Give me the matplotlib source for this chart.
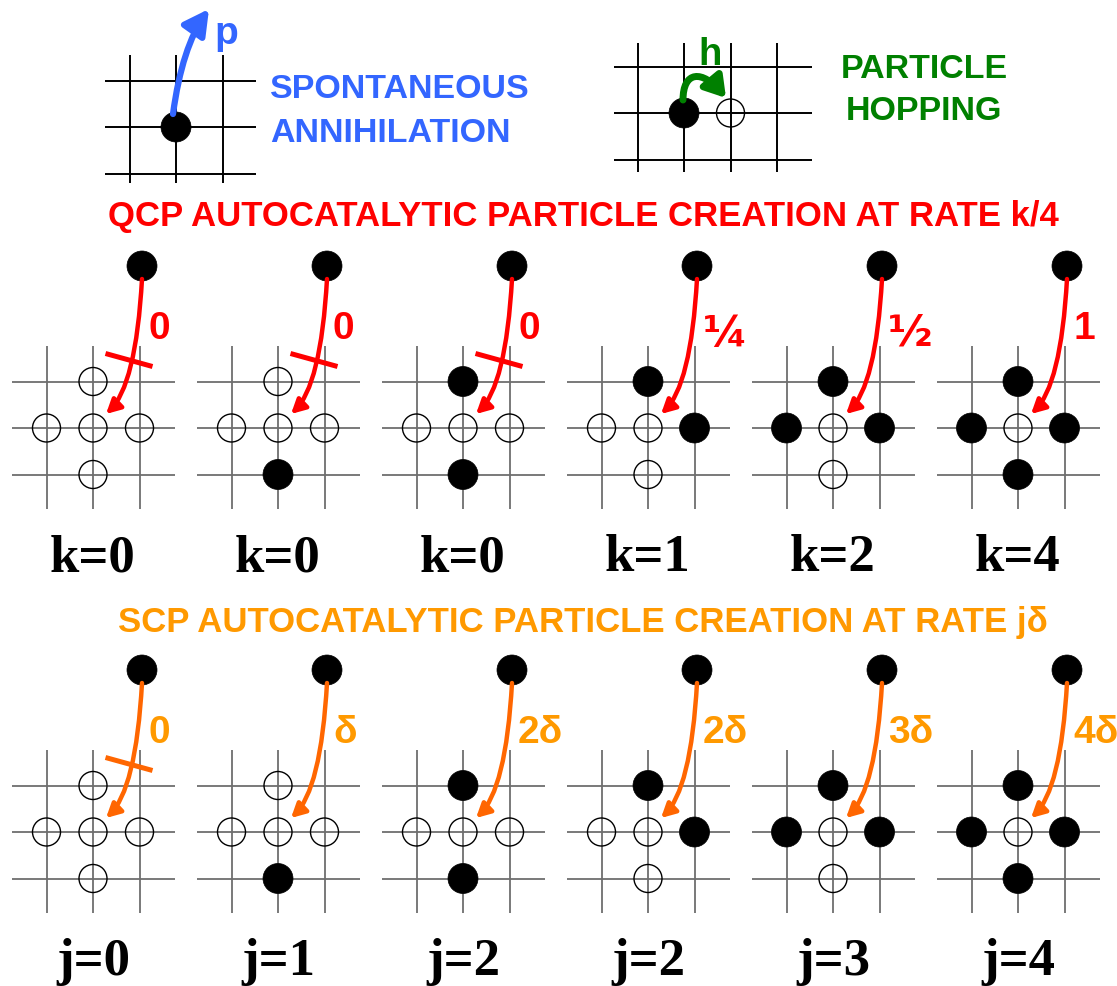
import matplotlib
matplotlib.use("Agg")
import matplotlib.pyplot as plt
from matplotlib.patches import Circle, FancyArrowPatch
from matplotlib.path import Path

# rates and neighbour occupancy for each of the six configurations
qcp_k = [0, 0, 0, 1, 2, 4]
qcp_rates = ["0", "0", "0", "¼", "½", "1"]
scp_j = [0, 1, 2, 2, 3, 4]
scp_rates = ["0", "δ", "2δ", "2δ", "3δ", "4δ"]

# 1 = occupied neighbour site (up, left, right, down)
nb_up = [0, 0, 1, 1, 1, 1]
nb_left = [0, 0, 0, 0, 1, 1]
nb_right = [0, 0, 0, 1, 1, 1]
nb_down = [0, 1, 1, 0, 0, 1]

SANS = "Liberation Sans"
SERIF = "Liberation Serif"
RED = "#ff0000"
ORANGE_ARROW = "#ff6600"
ORANGE_TEXT = "#ff9900"
BLUE = "#3366ff"
GREEN = "#008000"

W, H = 1117, 987
fig = plt.figure(figsize=(W / 100, H / 100), dpi=100)
ax = fig.add_axes([0, 0, 1, 1])
ax.set_xlim(0, W)
ax.set_ylim(H, 0)
ax.axis("off")

SP = 46.5  # lattice spacing in pixels


def site(x, y, filled, r=None):
    if filled:
        ax.add_patch(Circle((x, y), r or 15, fc="black", ec="black", lw=0.5, zorder=4))
    else:
        ax.add_patch(Circle((x, y), r or 14, fc="none", ec="black", lw=1.0, zorder=4))


def lattice(xs, ys, x0, x1, y0, y1, color, lw):
    for x in xs:
        ax.plot([x, x], [y0, y1], color=color, lw=lw, solid_capstyle="butt", zorder=1)
    for y in ys:
        ax.plot([x0, x1], [y, y], color=color, lw=lw, solid_capstyle="butt", zorder=1)


# ---- spontaneous annihilation ----
cx, cy = 176, 128
lattice([cx - SP, cx, cx + SP], [cy - SP, cy, cy + SP],
        105, 256, 56, 184, "black", 1.4)
site(cx, cy, True)
p = Path([(173, 115), (182, 48), (209, 10)], [Path.MOVETO, Path.CURVE3, Path.CURVE3])
ax.add_patch(FancyArrowPatch(path=p, arrowstyle="-|>,head_length=0.5,head_width=0.27",
                             mutation_scale=30, lw=4.5, color=BLUE, zorder=5))
ax.text(214, 44, "p", color=BLUE, fontsize=28, fontweight="bold", family=SANS)
ax.text(270, 98, "SPONTANEOUS", color=BLUE, fontsize=24.5, fontweight="bold", family=SANS)
ax.text(270, 142, "ANNIHILATION", color=BLUE, fontsize=24.5, fontweight="bold", family=SANS)

# ---- particle hopping ----
hx, hy = 684, 114
lattice([hx - SP, hx, hx + SP, hx + 2 * SP], [hy - SP, hy, hy + SP],
        614, 812, 44, 173, "black", 1.4)
site(hx, hy, True)
site(hx + SP, hy, False)
p = Path([(683, 101), (683, 72), (702, 70), (726, 99)],
         [Path.MOVETO, Path.CURVE4, Path.CURVE4, Path.CURVE4])
ax.add_patch(FancyArrowPatch(path=p, arrowstyle="-|>,head_length=0.4,head_width=0.25",
                             mutation_scale=30, lw=5, color=GREEN, zorder=5))
ax.text(698, 65, "h", color=GREEN, fontsize=27.5, fontweight="bold", family=SANS)
ax.text(924, 78, "PARTICLE", color=GREEN, fontsize=24.5, fontweight="bold",
        family=SANS, ha="center")
ax.text(924, 120, "HOPPING", color=GREEN, fontsize=24.5, fontweight="bold",
        family=SANS, ha="center")

# ---- titles ----
ax.text(583, 226, "QCP AUTOCATALYTIC PARTICLE CREATION AT RATE k/4", color=RED,
        fontsize=25, fontweight="bold", family=SANS, ha="center")
ax.text(583, 632, "SCP AUTOCATALYTIC PARTICLE CREATION AT RATE jδ", color=ORANGE_TEXT,
        fontsize=25, fontweight="bold", family=SANS, ha="center")


def creation_row(cy, rates, counts, prefix, arrow_color, text_color):
    for i, (rate, n) in enumerate(zip(rates, counts)):
        cx = 93 + 185 * i
        lattice([cx - SP, cx, cx + SP], [cy - SP, cy, cy + SP],
                cx - 81, cx + 82, cy - 82, cy + 81, "#6e6e6e", 1.3)
        site(cx, cy, False)
        site(cx, cy - SP, nb_up[i])
        site(cx - SP, cy, nb_left[i])
        site(cx + SP, cy, nb_right[i])
        site(cx, cy + SP, nb_down[i])
        # particle that tries to create at the centre
        tx, ty = cx + 49, cy - 162
        site(tx, ty, True)
        p = Path([(tx, ty + 13), (cx + 43, cy - 42), (cx + 13, cy - 14)],
                 [Path.MOVETO, Path.CURVE3, Path.CURVE3])
        ax.add_patch(FancyArrowPatch(path=p, arrowstyle="-|>,head_length=0.42,head_width=0.22",
                                     mutation_scale=20, lw=3.2, color=arrow_color, zorder=5))
        if rate == "0":
            bx, by = cx + 36, cy - 68
            ax.plot([bx - 23.5, bx + 23.5], [by - 6.5, by + 6.5], color=arrow_color,
                    lw=3.6, solid_capstyle="butt", zorder=5)
        if rate in ("¼", "½"):
            ax.text(cx + 55, ty + 79, rate, color=text_color, fontsize=31,
                    fontweight="bold", family="DejaVu Sans")
        else:
            ax.text(cx + 55, ty + 72, rate, color=text_color, fontsize=28,
                    fontweight="bold", family=SANS)
        ax.text(cx, cy + 142, f"{prefix}={n}", color="black", fontsize=38,
                fontweight="bold", family=SERIF, ha="center")


creation_row(429, qcp_rates, qcp_k, "k", RED, RED)
creation_row(833, scp_rates, scp_j, "j", ORANGE_ARROW, ORANGE_TEXT)

fig.savefig("out.png", dpi=100, facecolor="white")
